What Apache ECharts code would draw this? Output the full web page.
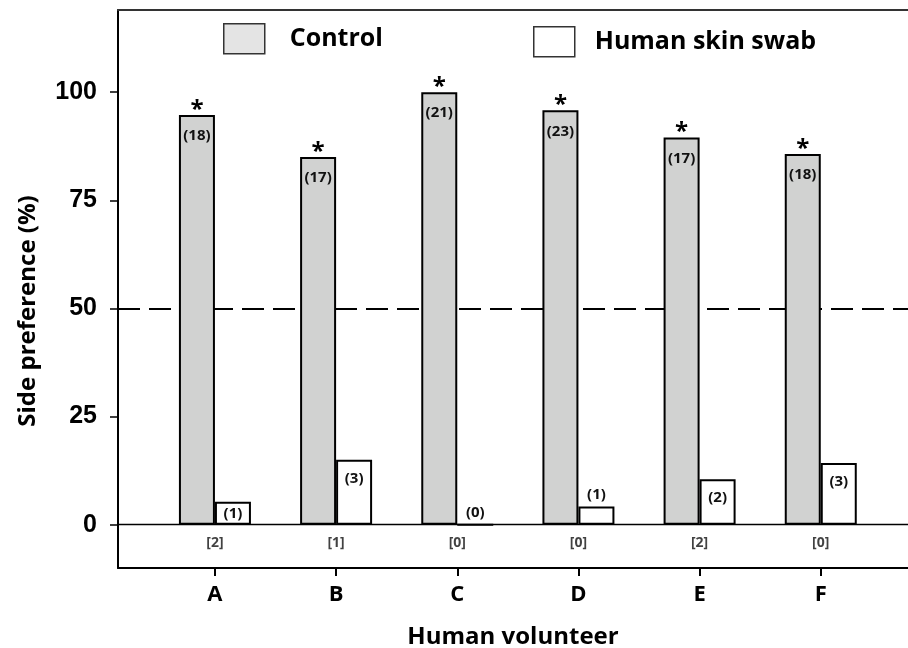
<!DOCTYPE html>
<html>
<head>
<meta charset="utf-8">
<script src="https://cdn.jsdelivr.net/npm/echarts@6/dist/echarts.min.js"></script>
<style>
html,body{margin:0;padding:0;background:#fff;}
#c{width:908px;height:648px;}
</style>
</head>
<body>
<div id="c"></div>
<script>
// ---- data ----
const categories = ['A', 'B', 'C', 'D', 'E', 'F'];
const controlPct = [94.7, 85.0, 100, 95.8, 89.5, 85.7];
const skinPct = [5.3, 15.0, 0, 4.2, 10.5, 14.3];
const controlN = [18, 17, 21, 23, 17, 18];
const skinN = [1, 3, 0, 1, 2, 3];
const noChoiceN = [2, 1, 0, 0, 2, 0];
const sigMarks = ['*', '*', '*', '*', '*', '*'];
const yTickValues = [0, 25, 50, 75, 100];
const chanceLevel = 50;
const baseline = 0;

// ---- build ----
const xPos = categories.map((c, i) => i + 1);
const FONT = '"Open Sans", sans-serif';
const AX = { min: 0.2, max: 6.72 };

const chart = echarts.init(document.getElementById('c'), null, { renderer: 'canvas' });

const controlData = controlPct.map((v, i) => [xPos[i], v]);
const skinData = skinPct.map((v, i) => {
  let pos = 'insideTop', dist = 11;
  if (v < 5) { pos = 'top'; dist = 4; }
  else if (v < 8) { pos = 'inside'; dist = 0; }
  return { value: [xPos[i], v], label: { position: pos, distance: dist } };
});
const bracketData = noChoiceN.map((n, i) => [xPos[i], baseline]);

const option = {
  animation: false,
  backgroundColor: '#fff',
  grid: { left: 118, right: 0, top: 10, bottom: 80, outerBoundsMode: 'none', containLabel: false },
  legend: [
    {
      left: 223, top: 23, itemWidth: 41, itemHeight: 30, padding: 0, icon: 'rect',
      data: [{ name: 'Control', itemStyle: { color: '#e4e4e4', borderColor: '#333', borderWidth: 1.5 } }],
      textStyle: { fontFamily: FONT, fontWeight: 'bold', fontSize: 25, color: '#000', padding: [0, 0, 0, 20] },
      selectedMode: false
    },
    {
      left: 533, top: 26, itemWidth: 41, itemHeight: 30, padding: 0, icon: 'rect',
      data: [{ name: 'Human skin swab', itemStyle: { color: '#fff', borderColor: '#333', borderWidth: 1.5 } }],
      textStyle: { fontFamily: FONT, fontWeight: 'bold', fontSize: 25, color: '#000', padding: [0, 0, 0, 15] },
      selectedMode: false
    }
  ],
  xAxis: [
    {
      type: 'value', min: AX.min, max: AX.max, position: 'bottom',
      name: 'Human volunteer', nameLocation: 'middle', nameGap: 57,
      nameTextStyle: { fontFamily: FONT, fontWeight: 'bold', fontSize: 24, color: '#000' },
      axisLine: { show: true, onZero: false, lineStyle: { color: '#000', width: 2 } },
      axisTick: { show: true, length: 8, customValues: xPos, lineStyle: { color: '#000', width: 2 } },
      axisLabel: { customValues: xPos, margin: 16, formatter: v => categories[Math.round(v) - 1] || '',
        fontFamily: FONT, fontWeight: 'bold', fontSize: 22, color: '#000' },
      splitLine: { show: false }
    },
    {
      type: 'value', min: AX.min, max: AX.max, position: 'top',
      axisLine: { show: true, onZero: false, lineStyle: { color: '#333', width: 2 } },
      axisTick: { show: false }, axisLabel: { show: false }, splitLine: { show: false }
    }
  ],
  yAxis: {
    type: 'value', min: -10, max: 119,
    axisLine: { show: true, onZero: false, lineStyle: { color: '#000', width: 2 } },
    axisTick: { show: true, length: 8, customValues: yTickValues, lineStyle: { color: '#000', width: 1.5 } },
    axisLabel: { customValues: yTickValues, margin: 21, fontFamily: '"Liberation Sans", Arial, sans-serif',
      fontWeight: 'bold', fontSize: 25, color: '#000' },
    splitLine: { show: false }
  },
  graphic: [
    {
      type: 'text', x: 28, y: 311, rotation: Math.PI / 2,
      style: { text: 'Side preference (%)', fill: '#000', font: 'bold 24px "Open Sans", sans-serif',
        textAlign: 'center', textVerticalAlign: 'middle' }
    }
  ],
  series: [
    {
      name: 'Control', type: 'bar', xAxisIndex: 0, barWidth: 36, barGap: '0%',
      data: controlData,
      itemStyle: { color: '#d1d2d1', borderColor: '#000', borderWidth: 2 },
      label: {
        show: true, position: 'insideTop', distance: 5, offset: [0, -22],
        formatter: p => '{s|' + sigMarks[p.dataIndex] + '}\n{n|(' + controlN[p.dataIndex] + ')}',
        rich: {
          s: { fontFamily: FONT, fontWeight: 'bold', fontSize: 24, lineHeight: 24, color: '#000' },
          n: { fontFamily: FONT, fontWeight: 'bold', fontSize: 15, lineHeight: 28, color: '#111' }
        }
      },
      markLine: {
        silent: true, symbol: 'none', z: 1,
        label: { show: false },
        emphasis: { disabled: true },
        data: [
          { yAxis: chanceLevel, lineStyle: { color: '#000', width: 2, type: [22, 9] } },
          { yAxis: baseline, lineStyle: { color: '#000', width: 1.3, type: 'solid' } }
        ]
      }
    },
    {
      name: 'Human skin swab', type: 'bar', xAxisIndex: 0, barWidth: 36, barGap: '0%',
      data: skinData,
      itemStyle: { color: '#fff', borderColor: '#000', borderWidth: 2 },
      label: {
        show: true,
        formatter: p => '(' + skinN[p.dataIndex] + ')',
        fontFamily: FONT, fontWeight: 'bold', fontSize: 15, color: '#111'
      }
    },
    {
      name: 'no choice', type: 'scatter', xAxisIndex: 0, symbolSize: 0, silent: true,
      data: bracketData,
      label: {
        show: true, position: 'bottom', distance: 11,
        formatter: p => '[' + noChoiceN[p.dataIndex] + ']',
        fontFamily: FONT, fontWeight: 'bold', fontSize: 14, color: '#111'
      }
    }
  ]
};
chart.setOption(option);
</script>
</body>
</html>
